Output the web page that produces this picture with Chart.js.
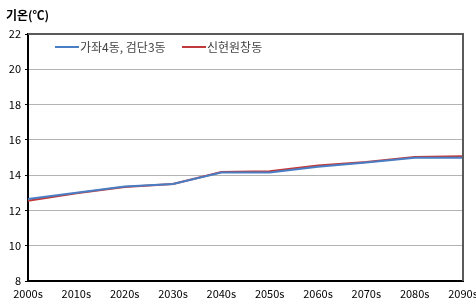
<!DOCTYPE html>
<html>
<head>
<meta charset="utf-8">
<script src="https://cdn.jsdelivr.net/npm/chart.js@4"></script>
<style>
  html, body { margin: 0; padding: 0; background: #fff; }
  #wrap { width: 476px; height: 300px; position: relative; }
</style>
</head>
<body>
<div id="wrap"><canvas id="tempChart"></canvas></div>
<script>
// decades on the x axis
const decades = ['2000s', '2010s', '2020s', '2030s', '2040s', '2050s', '2060s', '2070s', '2080s', '2090s'];
// mean temperature per decade
const gajwaGeomdan = [12.65, 13.0, 13.35, 13.5, 14.15, 14.15, 14.48, 14.72, 14.98, 14.98];
const sinhyeonWonchang = [12.55, 12.97, 13.33, 13.5, 14.18, 14.22, 14.55, 14.75, 15.03, 15.07];
const seriesNames = ['가좌4동, 검단3동', '신현원창동'];
const yTitle = '기온(℃)';

const fontFamily = '"Noto Sans CJK KR", "Noto Sans", sans-serif';

// title, in-plot legend and the top/right frame lines
const decorations = {
    id: 'decorations',
    afterDraw(chart) {
        const ctx = chart.ctx;
        const area = chart.chartArea;
        ctx.save();

        // gray frame on top and right
        ctx.strokeStyle = '#5a5a5a';
        ctx.lineWidth = 2;
        ctx.beginPath();
        ctx.moveTo(area.left, area.top);
        ctx.lineTo(area.right, area.top);
        ctx.lineTo(area.right, area.bottom);
        ctx.stroke();

        // axis title
        ctx.fillStyle = '#000';
        ctx.font = 'bold 12px ' + fontFamily;
        ctx.textBaseline = 'middle';
        ctx.textAlign = 'left';
        ctx.fillText(yTitle, 6, 15);

        // legend inside plot
        ctx.font = '12px ' + fontFamily;
        let x = 55;
        const y = 47;
        chart.data.datasets.forEach(function(ds, i) {
            ctx.strokeStyle = ds.borderColor;
            ctx.lineWidth = 2;
            ctx.beginPath();
            ctx.moveTo(x, y);
            ctx.lineTo(x + 24, y);
            ctx.stroke();
            ctx.fillStyle = '#444';
            ctx.fillText(ds.label, x + 25, y);
            x += 127;
        });
        ctx.restore();
    }
};

const ctx = document.getElementById('tempChart').getContext('2d');
new Chart(ctx, {
    type: 'line',
    data: {
        labels: decades,
        datasets: [{
            label: seriesNames[0],
            data: gajwaGeomdan,
            borderColor: '#4a7ec4',
            borderWidth: 2,
            pointRadius: 0,
            tension: 0
        }, {
            label: seriesNames[1],
            data: sinhyeonWonchang,
            borderColor: '#c0393b',
            borderWidth: 2,
            pointRadius: 0,
            tension: 0
        }]
    },
    options: {
        responsive: true,
        maintainAspectRatio: false,
        animation: false,
        layout: { padding: { top: 34, right: 0, bottom: 0, left: 0 } },
        plugins: {
            legend: { display: false },
            tooltip: { enabled: false }
        },
        scales: {
            x: {
                offset: false,
                grid: { display: false, drawTicks: true, tickLength: 4, tickColor: '#000' },
                border: { color: '#000', width: 2 },
                ticks: {
                    autoSkip: false,
                    maxRotation: 0,
                    padding: 2,
                    color: '#000',
                    font: { family: fontFamily, size: 11 }
                },
                afterFit: function(scale) {
                    scale.height = 19;
                    // let the last label run off the edge like the original
                    scale.paddingRight = 13;
                }
            },
            y: {
                min: 8,
                max: 22,
                ticks: {
                    stepSize: 2,
                    padding: 4,
                    color: '#000',
                    font: { family: fontFamily, size: 11 }
                },
                grid: { color: '#b4b4b4', lineWidth: 1, tickLength: 3, tickColor: '#000' },
                border: { color: '#000', width: 2 },
                afterFit: function(scale) { scale.width = 28; }
            }
        }
    },
    plugins: [decorations]
});
</script>
</body>
</html>
